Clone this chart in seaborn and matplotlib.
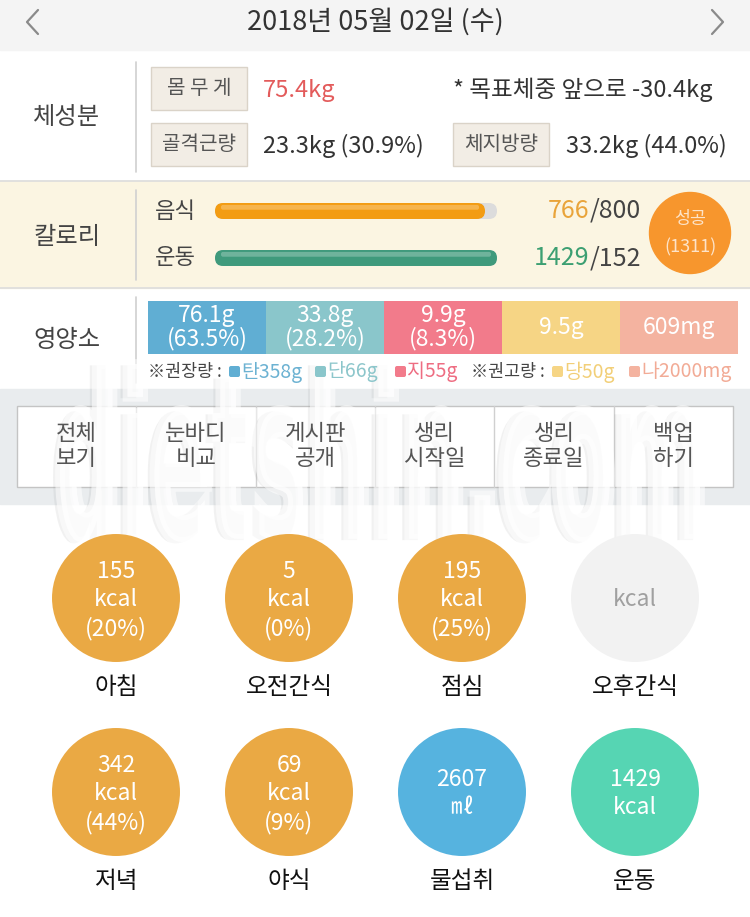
import numpy as np
import pandas as pd
import matplotlib
matplotlib.use('Agg')
import matplotlib.pyplot as plt
import matplotlib.patheffects as pe
from matplotlib.patches import Rectangle, FancyBboxPatch, Circle, PathPatch
from matplotlib.textpath import TextPath
from matplotlib.font_manager import FontProperties
from matplotlib.transforms import Affine2D
import seaborn as sns

sns.set_theme(style='white')
plt.rcParams['font.family'] = ['Noto Sans CJK KR', 'DejaVu Sans']

## 데이터
date_title = "2018년 05월 02일 (수)"
body_boxes = ['몸 무 게', '골격근량', '체지방량']
body_values = ['75.4kg', '23.3kg (30.9%)', '33.2kg (44.0%)']
goal_note = '* 목표체중 앞으로 -30.4kg'

cal_names = ['음식', '운동']
cal_values = [766, 1429]
cal_goals = [800, 152]
cal_colors = ['#f39c12', '#3f9a7c']
cal_text_colors = ['#e9a43a', '#3c9f72']
success_kcal = 1311

nutr_names = ['탄', '단', '지', '당', '나']
nutr_texts = ['76.1g\n(63.5%)', '33.8g\n(28.2%)', '9.9g\n(8.3%)', '9.5g', '609mg']
nutr_colors = ['#60aed3', '#8ac6cb', '#f27b8b', '#f6d585', '#f4b3a0']
nutr_text_colors = ['#6cb2d2', '#8cc6cb', '#ee6d82', '#f2cf78', '#f2ab96']
nutr_refs = ['탄358g', '단66g', '지55g', '당50g', '나2000mg']

buttons = ['전체\n보기', '눈바디\n비교', '게시판\n공개', '생리\n시작일', '생리\n종료일', '백업\n하기']

meal_names = ['아침', '오전간식', '점심', '오후간식', '저녁', '야식', '물섭취', '운동']
meal_nums = ['155', '5', '195', '', '342', '69', '2607', '1429']
meal_units = ['kcal', 'kcal', 'kcal', 'kcal', 'kcal', 'kcal', '㎖', 'kcal']
meal_pcts = ['(20%)', '(0%)', '(25%)', '', '(44%)', '(9%)', '', '']
meal_colors = ['#eaa944', '#eaa944', '#eaa944', '#f2f2f2', '#eaa944', '#eaa944', '#56b3df', '#56d5b3']

W, H = 750, 917
fig = plt.figure(figsize=(W / 100, H / 100), dpi=100)
fig.patch.set_facecolor('white')
ax = fig.add_axes([0, 0, 1, 1])
ax.set_xlim(0, W)
ax.set_ylim(H, 0)
ax.axis('off')


def inset(x0, y0, x1, y1):
    a = fig.add_axes([x0 / W, 1 - y1 / H, (x1 - x0) / W, (y1 - y0) / H])
    a.axis('off')
    a.patch.set_alpha(0)
    return a


## 배경 영역
ax.add_patch(Rectangle((0, 0), W, 50, color='#f4f4f4', zorder=0))
ax.add_patch(Rectangle((0, 181), W, 107, color='#fbf5e2', zorder=0))
ax.add_patch(Rectangle((0, 389), W, 115, color='#e9ecee', zorder=0))
for yy in [180.5, 288]:
    ax.plot([0, W], [yy, yy], color='#dcdcdc', lw=1.2, zorder=1)

## 헤더
ax.text(375, 22, date_title, ha='center', va='center', fontsize=19.5, color='#333333')
ax.plot([38, 27, 38], [10, 22, 34], color='#8a8a8a', lw=1.6)
ax.plot([712, 723, 712], [10, 22, 34], color='#8a8a8a', lw=1.6)

## 섹션 제목
for lbl, yy in zip(['체성분', '칼로리', '영양소'], [117, 237, 340]):
    ax.text(67, yy, lbl, ha='center', va='center', fontsize=17.5, color='#444444', zorder=6)
for y0, y1 in [(62, 172), (190, 280), (297, 383)]:
    ax.plot([136, 136], [y0, y1], color='#d0d0d0', lw=1.2)

## 체성분
box_pos = [(151, 67), (151, 123), (453, 123)]
for (bx, by), name in zip(box_pos, body_boxes):
    ax.add_patch(Rectangle((bx, by), 96, 43, facecolor='#f2ede5', edgecolor='#dad3c8', lw=1))
    ax.text(bx + 48, by + 22, name, ha='center', va='center', fontsize=14.5, color='#555555')
ax.text(263, 90, body_values[0], ha='left', va='center', fontsize=17, color='#e35b5b')
ax.text(453, 90, goal_note, ha='left', va='center', fontsize=17, color='#333333')
ax.text(263, 146, body_values[1], ha='left', va='center', fontsize=17, color='#333333')
ax.text(566, 146, body_values[2], ha='left', va='center', fontsize=17, color='#333333')

## 칼로리 막대
cal_df = pd.DataFrame({'name': cal_names,
                       'ratio': [min(v / g, 1) for v, g in zip(cal_values, cal_goals)],
                       'track': [1.0, 1.0]})
bx0, by0, bx1, by1 = 215, 187.5, 497, 281.5
cax = inset(bx0, by0, bx1, by1)
sns.barplot(data=cal_df, x='track', y='name', orient='h', color='#dcdcdc', width=0.34,
            saturation=1, linewidth=0, ax=cax)
sns.barplot(data=cal_df, x='ratio', y='name', orient='h', hue='name', palette=cal_colors,
            width=0.34, saturation=1, linewidth=0, legend=False, ax=cax)
cax.set_xlim(0, 1)
cax.set_ylim(1.5, -0.5)
cax.axis('off')
ux = 1 / (bx1 - bx0)
uy = 2 / (by1 - by0)
for p in list(cax.patches):
    x, y, w, h = p.get_x(), p.get_y(), p.get_width(), p.get_height()
    fc = p.get_facecolor()
    p.remove()
    cax.add_patch(FancyBboxPatch((x, y), w, h, boxstyle='round,pad=0,rounding_size=%f' % (8 * ux),
                                 mutation_aspect=uy / ux, facecolor=fc, edgecolor='none'))
    if fc[0] < 0.84 or fc[2] < 0.84:
        # 윗부분 하이라이트
        cax.add_patch(FancyBboxPatch((x + 6 * ux, y + h * 0.12), w - 12 * ux, h * 0.3,
                                     boxstyle='round,pad=0,rounding_size=%f' % (2 * ux),
                                     mutation_aspect=uy / ux, facecolor='white', alpha=0.25,
                                     edgecolor='none'))

for i, name in enumerate(cal_names):
    yy = [211, 258][i]
    ax.text(155, yy, name, ha='left', va='center', fontsize=16, color='#444444')
    t = ax.text(641, yy, '/%d' % cal_goals[i], ha='right', va='center', fontsize=18, color='#444444')
    ax.annotate(str(cal_values[i]), xy=(0, 0.5), xycoords=t, ha='right', va='center',
                fontsize=18, color=cal_text_colors[i])

ax.add_patch(Circle((690, 233), 40.5, color='#f7962d'))
ax.text(690, 219, '성공', ha='center', va='center', fontsize=12.5, color='#fde3c8')
ax.text(690, 247, '(%d)' % success_kcal, ha='center', va='center', fontsize=13, color='#fde3c8')

## 영양소
nax = inset(148, 301, 738, 354)
sns.barplot(x=nutr_names, y=[1] * len(nutr_names), hue=nutr_names, palette=nutr_colors,
            width=1.0, saturation=1, linewidth=0, legend=False, ax=nax)
nax.set_xlim(-0.5, len(nutr_names) - 0.5)
nax.set_ylim(0, 1)
nax.axis('off')
for i, txt in enumerate(nutr_texts):
    nax.text(i, 0.5, txt, ha='center', va='center', fontsize=16.5, color='white', linespacing=1.0)

ax.text(148, 372, '※권장량 :', ha='left', va='center', fontsize=12.5, color='#444444', zorder=6)
ax.text(471, 372, '※권고량 :', ha='left', va='center', fontsize=12.5, color='#444444', zorder=6)
ref_x = [229, 315, 395, 552, 629]
for xx, ref, c, tc in zip(ref_x, nutr_refs, nutr_colors, nutr_text_colors):
    ax.add_patch(FancyBboxPatch((xx, 366), 11, 11, boxstyle='round,pad=0,rounding_size=2',
                                facecolor=c, edgecolor='none', zorder=6))
    ax.text(xx + 12, 372, ref, ha='left', va='center', fontsize=14, color=tc, zorder=6)

## 버튼
ax.add_patch(Rectangle((17, 406), 716, 81, facecolor='white', edgecolor='#c4c4c4', lw=1, zorder=2))
bw = 716 / len(buttons)
for i, b in enumerate(buttons):
    if i > 0:
        ax.plot([17 + i * bw] * 2, [406, 487], color='#d0d0d0', lw=1, zorder=3)
    ax.text(17 + (i + 0.5) * bw, 446, b, ha='center', va='center', fontsize=16,
            color='#555555', linespacing=1.1, zorder=6)

## 워터마크
fp = FontProperties(family='DejaVu Sans', weight='bold')
tp = TextPath((0, 0), 'dietshin.com', size=100, prop=fp)
bb = tp.get_extents()
tr = Affine2D().translate(-bb.x0, -bb.y0).scale(640 / bb.width, -178 / bb.height).translate(60, 542)
wm = PathPatch(tr.transform_path(tp), facecolor='white', edgecolor='none', alpha=0.55, zorder=5)
wm.set_path_effects([pe.SimplePatchShadow(offset=(-5, -1), shadow_rgbFace='#7a7a7a', alpha=0.1),
                     pe.Stroke(linewidth=7, foreground='white', alpha=0.55),
                     pe.Normal()])
ax.add_patch(wm)

## 끼니 원
meal_df = pd.DataFrame({'name': meal_names,
                        'col': [i % 4 for i in range(len(meal_names))],
                        'row': [i // 4 for i in range(len(meal_names))]})
mx0, my0, mx1, my1 = 29.5, 501, 721.5, 889
max_ = inset(mx0, my0, mx1, my1)
sns.scatterplot(data=meal_df, x='col', y='row', hue='name', palette=meal_colors, s=8490,
                linewidth=0, legend=False, ax=max_, zorder=6)
max_.set_xlim(-0.5, 3.5)
max_.set_ylim(1.5, -0.5)
max_.axis('off')
for i, r in meal_df.iterrows():
    lines = [l for l in [meal_nums[i], meal_units[i], meal_pcts[i]] if l]
    offs = {1: [0], 2: [14, -14], 3: [28.5, 0, -28.5]}[len(lines)]
    tc = '#a0a0a0' if meal_nums[i] == '' else 'white'
    for l, o in zip(lines, offs):
        max_.annotate(l, xy=(r['col'], r['row']), xytext=(0, (o - 2) * 0.72), textcoords='offset points',
                      ha='center', va='center', fontsize=16.5, color=tc, zorder=7)
    max_.annotate(r['name'], xy=(r['col'], r['row']), xytext=(0, -90 * 0.72),
                  textcoords='offset points', ha='center', va='center', fontsize=17,
                  color='#111111', zorder=7)

plt.savefig('out.png', dpi=100)
